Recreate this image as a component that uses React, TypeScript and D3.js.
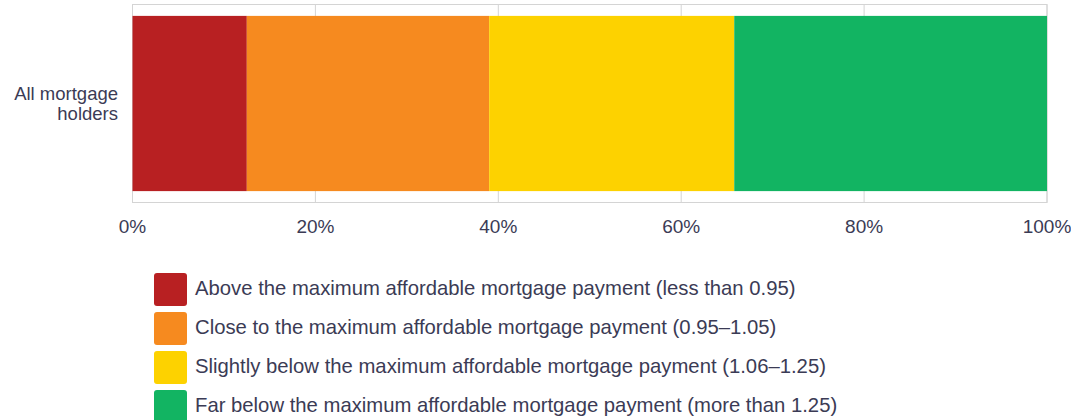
import React from "react";
import * as d3 from "d3";

const categories = ["All mortgage holders"];
const seriesNames = [
  "Above the maximum affordable mortgage payment (less than 0.95)",
  "Close to the maximum affordable mortgage payment (0.95\u20131.05)",
  "Slightly below the maximum affordable mortgage payment (1.06\u20131.25)",
  "Far below the maximum affordable mortgage payment (more than 1.25)",
];
const seriesValues = [12.5, 26.5, 26.8, 34.2];
const seriesColors = ["#b82022", "#f68a1f", "#fdd200", "#12b462"];
const tickValues = [0, 20, 40, 60, 80, 100];

export default function App() {
  const W = 1071, H = 420;
  const left = 132.5, right = 1047, top = 4.5, bottom = 202.5;
  const x = d3.scaleLinear().domain([0, 100]).range([left, right]);
  const y = d3.scaleBand().domain(categories).range([top, bottom]).paddingInner(0).paddingOuter(0.065);
  const stack = d3.stack<any>().keys(seriesNames)([
    Object.fromEntries(seriesNames.map((k, i) => [k, seriesValues[i]])),
  ]);
  const textColor = "#3b3b55";
  const font = "Arial, 'Liberation Sans', sans-serif";
  return (
    <svg width={W} height={H} style={{ position: "absolute", left: 0, top: 0, fontFamily: font }}>
      <rect x={left} y={top} width={right - left} height={bottom - top} fill="none" stroke="#d4d4d4" />
      {tickValues.map((t) => (
        <line key={t} x1={x(t)} x2={x(t)} y1={top} y2={bottom} stroke="#d4d4d4" />
      ))}
      {stack.map((s, i) => (
        <rect
          key={i}
          x={x(s[0][0])}
          width={x(s[0][1]) - x(s[0][0])}
          y={y(categories[0])}
          height={y.bandwidth()}
          fill={seriesColors[i]}
        />
      ))}
      {tickValues.map((t) => (
        <text key={t} x={x(t)} y={233} textAnchor="middle" fontSize={19} fill={textColor}>
          {t}%
        </text>
      ))}
      <text x={118} y={100} textAnchor="end" fontSize={18.5} fill={textColor}>
        <tspan x={118}>All mortgage</tspan>
        <tspan x={118} dy={19.5}>holders</tspan>
      </text>
      {seriesNames.map((n, i) => (
        <g key={n} transform={`translate(154, ${273 + i * 39})`}>
          <rect width={33} height={33} rx={3} fill={seriesColors[i]} />
          <text x={41} y={21.5} fontSize={20.3} fill={textColor}>
            {n}
          </text>
        </g>
      ))}
    </svg>
  );
}
